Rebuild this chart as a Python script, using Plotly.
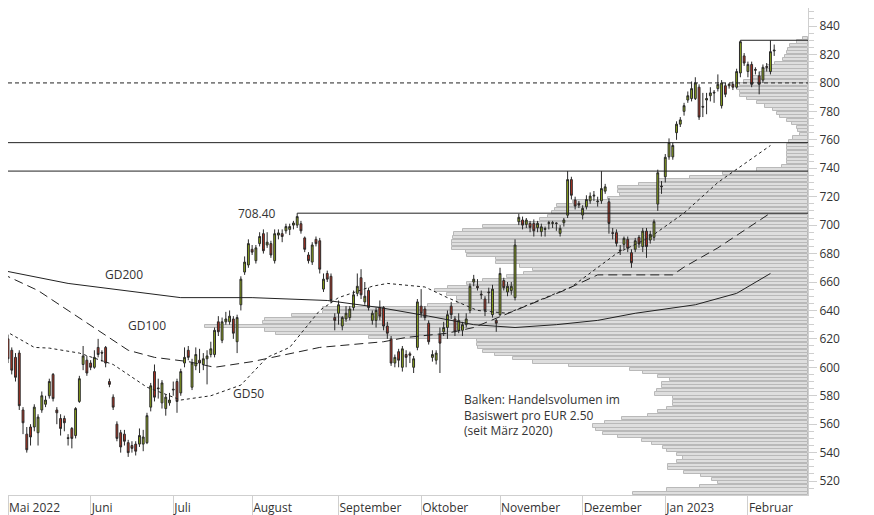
import plotly.graph_objects as go
import pandas as pd

opens = [621,620,612,607,610,570,553,558,558,554,570,574,580,595,570,564,564,550.5,557,552,
 576,602,605,603,600,614,610.5,614,590,579,560,554,553,547,545,546,546,546,547,572,
 597,585.5,575,571,575,584,590,582,603,612,586,601,605,602,606,609,609,632,619,632,
 632,634,618,644,667,672,683,675,687,694,686,687,675,693,694,696,697,700,700,701,
 691,679,674,690,689,655,666,664,635,638,629,634,635,642,652,663,646,654,633,633,
 642,642,629,620,603,611,600,609,609.5,600,614,643,641,631,607,605,623,625,628,643,
 634,626,626,630,640,660,657,651.5,648,653,637,633,637,661,653,654,649,702.4,703.6,700.5,
 701.2,701.2,698.2,695.4,697,701.2,701.2,701.5,694.2,701.7,707,732,717.6,715.3,707.1,712.9,717.1,720.4,716.4,717.1,
 723.9,716.4,694.7,694.7,682.5,686.5,690,680.6,683,691.4,684.9,695.8,689.5,691.4,714.8,727.5,734,748,748,765,
 771,780,788,789,789,797,783.5,788,791,793.5,796,784,798,798,799,797,807,819,808,813,
 809.5,805,802,811.5,808,822.5]
highs = [632,623,614,610,612,572,558,560,574,567,583,580,592,596,572,567,566,553,558,572,
 594,615,608,605,612,620,612,615,592,581,562,556,556,549,548,548,557,556,568,589,
 602,592,591,581,582,590,592,599,614,615,606,614,613,610,612,618,628,636,635,639,
 640,636,637,664,678,690,686,686,695,697,695,689,697,697,697,701,701,703,708.4,703,
 692,681,688,692,691,666,668,666,638,647,636,643,643,654,666,669,660,656,640,642,
 647,643,632,622,609,613,615,612,611,608,648,655,643,633,612,612,628,632,640,646,
 636,638,632,638,659,665,662,654,650,656,658,634,670,663,660,660,690,708,706,705,
 703,704,703,701,699,703,703,702,700,705,738,734,720,717,714,721,723,724,720,738,
 729,719,698,697,686,692,692,683,691,693,698,698,696,704,739,731,750,761,758,773,
 776,786,794,801,804,799,793,793,797,795,806,802,800,800,801,810,830,821,815,815,
 811,808,813,814,830,827]
lows = [617,603,595,590,570,553,540,545,555,545,568,572,578,576,560,552,555,545,543,550,
 575,598,594,598,599,607,604,600,586,570,548,540,545,537,540,538,544,541,546,569,
 576,578,571,566,573,580,568,580,600,605,584,598,596,598,588,607,607,622,617,630,
 630,620,610,640,665,670,679,673,685,680,684,677,673,690,688,694,693,697,698,694,
 681,673,672,685,666,653,660,645,626,630,626,632,633,640,650,648,644,640,630,628,
 633,626,620,601,600,600,597,600,603,596,612,635,633,616,604,602,596,622,620,634,
 622,624,622,628,638,657,654,648,636,645,635,625,636,654,650,651,647,700,697,698,
 695,692,695,692,692,697,698,696,692,699,705,718,711,712,704,711,715,717,713,715,
 722,694,690,685,679,683,681,670,681,684,681,677,687,689,710,722,730,746,746,760,
 769,777,786,787,788,774,776,778,787,786,794,782,790,796,795,796,804,812,804,797,
 806,792,800,808,806,819]
closes = [619,606,598,593,573,561,542,551,572,565,580,577,590,578,568,557,561,550,550,571,
 592,608,596,600,607,609,610,603,588,572,550,544,548,540,543,541,552,551,566,587,
 579,585,589,579,577,584.5,576,597,607,607,603,609,603,606,608,613,626,625,632,634,
 636,624,635,662,674,687,681,684,692,682,688,679,694,694.5,692,699,699,701.5,706,696,
 683,675,686,687,669,662,662,647,633,644,635,638,641,651,657,651,650,642,638,640,
 636,629,624,603,607,605,613,607,608.5,606,646,638,635,618,609,610,617,628,637,637,
 625,633,630,634,657,662,656,651,640,652.5,655,631,666,656,657,657,686,705.5,700,703.6,
 698.4,696,701.2,698.8,697.5,701.7,701.7,701.2,697.7,703.6,732,721,713.4,714.1,711.8,718,720.4,721,716.9,725.7,
 726.9,701.2,694.2,687.2,682,690.7,683.7,673.6,689,686.7,695.8,684.9,693.5,702.4,736.8,727,747.7,758,756,771,
 774,784,791,796,800,776,783,789,793,793,799,800,792,799,797,808,829,814,813,799,
 809,799,811,811,822,823]

dates = pd.bdate_range("2022-04-29", periods=len(closes))

gd200_dates = ["2022-04-27","2022-05-24","2022-07-05","2022-08-01","2022-08-29","2022-09-16","2022-10-05",
 "2022-10-21","2022-11-07","2022-11-22","2022-12-07","2022-12-21","2023-01-12","2023-01-27","2023-02-09"]
gd200 = [670,659,649,649,647,642,636,630,628,630,633,638,644,652,666]
gd100_dates = ["2022-04-27","2022-05-12","2022-05-24","2022-06-03","2022-06-15","2022-06-24","2022-07-07",
 "2022-07-18","2022-08-01","2022-08-25","2022-09-19","2022-09-27","2022-10-12","2022-10-21","2022-11-07",
 "2022-11-24","2022-12-07","2023-01-04","2023-01-09","2023-01-20","2023-02-09"]
gd100 = [670,654,640,626,612,607,604,600,604,614,618,621,624,628,640,654,665,665,670.5,684,708.5]
gd50_dates = ["2022-04-27","2022-05-11","2022-05-17","2022-05-27","2022-06-09","2022-06-22","2022-07-05",
 "2022-07-15","2022-07-27","2022-08-05","2022-08-15","2022-08-25","2022-09-01","2022-09-14","2022-09-20",
 "2022-10-04","2022-10-12","2022-10-24","2022-11-03","2022-11-28","2022-12-14","2022-12-27","2023-01-09",
 "2023-01-20","2023-02-09"]
gd50 = [632,614,613.5,610,602,586,577,580,587.5,607,614,640,649,657,659,656.5,649,640,638,656.5,680,691.6,708.5,730,756]

profile_start = 511.25
profile_step = 2.5
profile_volume = [175,141,108,90,96,107,124,140,140,131,
 125,131,141,145,156,166,190,205,212,215,
 203,186,160,150,141,135,135,135,153,151,
 146,146,138,150,165,178,239,275,295,313,
 325,330,331,331,439,532,543,603,545,543,
 516,485,485,380,351,351,361,373,360,341,
 325,301,284,275,288,312,312,341,342,356,
 356,356,355,354,345,325,289,268,260,256,
 253,251,235,200,188,190,190,169,150,118,
 85,51,26,21,21,21,21,21,21,19,
 15,8,10,11,16,21,28,31,35,43,
 51,61,68,68,71,68,64,55,48,45,
 41,33,25,23,21,20,18,11,5]
profile_prices = [profile_start + profile_step * i for i in range(len(profile_volume))]

month_ticks = ["2022-05-02","2022-06-01","2022-07-01","2022-08-01","2022-09-01","2022-10-03",
 "2022-11-01","2022-12-01","2023-01-02","2023-02-01"]
month_labels = ["Mai 2022","Juni","Juli","August","September","Oktober","November","Dezember","Jan 2023","Februar"]

high_level = 708.40
levels_full = [800, 758, 738]
top_level = 830
x_start, x_end = "2022-05-02", "2023-02-23"

FONT = "Open Sans, Noto Sans, sans-serif"
fig = go.Figure()
fig.add_trace(go.Bar(y=profile_prices, x=profile_volume, orientation="h", xaxis="x", yaxis="y",
    width=2.2, marker=dict(color="#dedede", line=dict(color="#b9b9b9", width=1)), hoverinfo="skip", showlegend=False))
fig.add_trace(go.Scatter(x=gd200_dates, y=gd200, xaxis="x2", mode="lines", line=dict(color="#222", width=1), showlegend=False))
fig.add_trace(go.Scatter(x=gd100_dates, y=gd100, xaxis="x2", mode="lines", line=dict(color="#222", width=1, dash="9px,5px"), showlegend=False))
fig.add_trace(go.Scatter(x=gd50_dates, y=gd50, xaxis="x2", mode="lines", line=dict(color="#222", width=1, dash="3px,3px"), showlegend=False))
fig.add_trace(go.Candlestick(x=dates, open=opens, high=highs, low=lows, close=closes, xaxis="x2",
    increasing=dict(fillcolor="#93ae19", line=dict(color="#2a2a2a", width=1)),
    decreasing=dict(fillcolor="#b8311f", line=dict(color="#2a2a2a", width=1)),
    whiskerwidth=0, showlegend=False))

shapes = []
for lv in levels_full:
    shapes.append(dict(type="line", xref="paper", yref="y", x0=0, x1=1, y0=lv, y1=lv,
        line=dict(color="#222", width=1, dash="4px,3px" if lv == 800 else "solid")))
shapes.append(dict(type="line", xref="x2", yref="y", x0=str(dates[78].date()), x1=x_end, y0=high_level, y1=high_level,
    line=dict(color="#222", width=1)))
shapes.append(dict(type="line", xref="x2", yref="y", x0=str(dates[196].date()), x1=x_end, y0=top_level, y1=top_level,
    line=dict(color="#222", width=1)))

ann = [
    dict(text="GD200", x="2022-06-14", y=665.5, xref="x2", yref="y", showarrow=False, xanchor="center"),
    dict(text="GD100", x="2022-06-22", y=629.5, xref="x2", yref="y", showarrow=False, xanchor="center"),
    dict(text="GD50", x="2022-07-29", y=581.5, xref="x2", yref="y", showarrow=False, xanchor="center"),
    dict(text=f"{high_level:.2f}", x=str(dates[73].date()), y=high_level, xref="x2", yref="y", showarrow=False, xanchor="right"),
    dict(text="Balken: Handelsvolumen im<br>Basiswert pro EUR 2.50<br>(seit März 2020)", x="2022-10-18", y=584.5,
         xref="x2", yref="y", showarrow=False, xanchor="left", yanchor="top", align="left"),
]

fig.update_layout(
    width=866, height=507, margin=dict(l=0, r=66, t=0, b=20, autoexpand=False),
    paper_bgcolor="white", plot_bgcolor="white",
    font=dict(family=FONT, size=12, color="#333"),
    shapes=shapes, annotations=ann, bargap=0,
    xaxis=dict(range=[800, 0], visible=False, fixedrange=True),
    xaxis2=dict(type="date", overlaying="x", side="bottom", anchor="y", range=[x_start, x_end],
        rangebreaks=[dict(bounds=["sat", "mon"])],
        rangeslider=dict(visible=False), showgrid=False, tickvals=month_ticks, ticktext=month_labels,
        ticks="outside", ticklen=20, tickcolor="#cfcfcf", showline=True, linecolor="#cfcfcf",
        ticklabelposition="outside right", ticklabelstandoff=2, automargin=False, zeroline=False),
    yaxis=dict(side="right", range=[510.2, 852.7], tickvals=list(range(520, 841, 20)), showgrid=False,
        ticks="outside", ticklen=8, tickcolor="#cfcfcf", showline=True, linecolor="#cfcfcf", zeroline=False,
        automargin=False,
        minor=dict(dtick=5, ticks="outside", ticklen=5, tickcolor="#cfcfcf")),
)
fig.write_html("out.html")
